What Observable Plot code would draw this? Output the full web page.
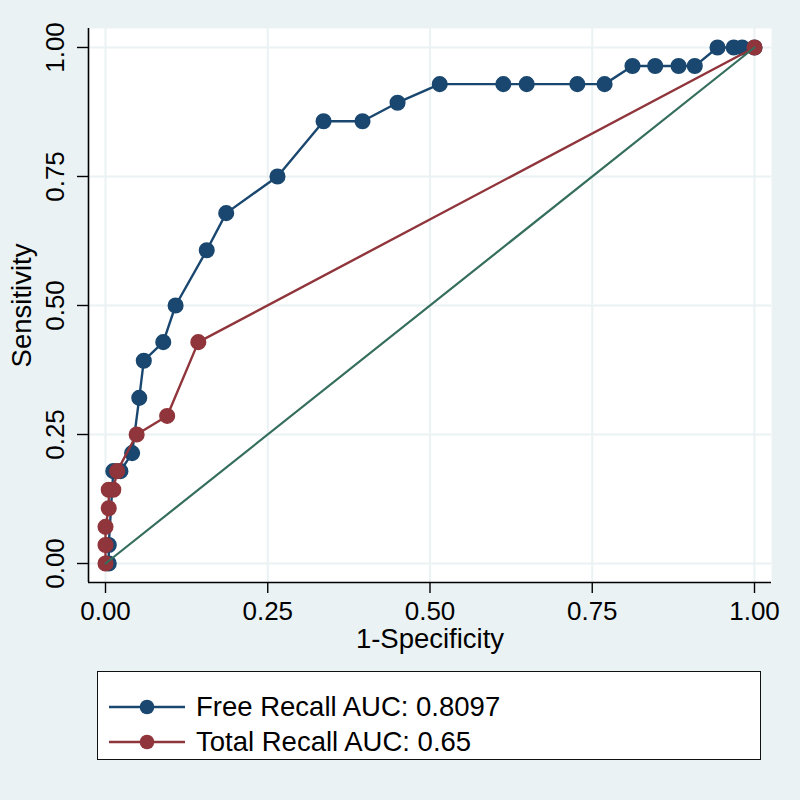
<!DOCTYPE html>
<html>
<head>
<meta charset="utf-8">
<script src="https://cdn.jsdelivr.net/npm/d3@7"></script>
<script src="https://cdn.jsdelivr.net/npm/@observablehq/plot@0.6"></script>
<style>
  html, body { margin: 0; padding: 0; background: #EAF2F3; }
  body { width: 800px; height: 800px; position: relative; overflow: hidden;
         font-family: "Liberation Sans", Arial, Helvetica, sans-serif; }
  #chart { position: absolute; left: 0; top: 0; }
  #legend { position: absolute; left: 97px; top: 671px; width: 662px; height: 87px;
            background: #fff; border: 1.5px solid #111; }
  .row { position: absolute; left: 0; height: 30px; display: flex; align-items: center; }
  .row svg { margin-left: 10px; }
  .row span { margin-left: 10px; font-size: 27.5px; color: #000; white-space: nowrap; }
</style>
</head>
<body>
<div id="chart"></div>
<div id="legend"></div>
<script>
// ---- data ----
const freeX = [0.005, 0.005, 0.012, 0.023, 0.041, 0.052, 0.059, 0.089, 0.108, 0.156, 0.186, 0.265, 0.336, 0.396, 0.450, 0.515, 0.613, 0.649, 0.727, 0.769, 0.812, 0.847, 0.883, 0.908, 0.943, 0.968, 0.981, 1.0];
const freeY = [0, 0.036, 0.179, 0.179, 0.214, 0.321, 0.393, 0.429, 0.500, 0.607, 0.679, 0.750, 0.857, 0.857, 0.893, 0.929, 0.929, 0.929, 0.929, 0.929, 0.964, 0.964, 0.964, 0.964, 1, 1, 1, 1];
const totalX = [0, 0, 0, 0.005, 0.005, 0.012, 0.018, 0.048, 0.095, 0.143, 1];
const totalY = [0, 0.036, 0.071, 0.107, 0.143, 0.143, 0.179, 0.250, 0.286, 0.429, 1];
const diagX = [0, 1];
const diagY = [0, 1];
const tickValues = [0, 0.25, 0.5, 0.75, 1];
const seriesNames = ["Free Recall AUC: 0.8097", "Total Recall AUC: 0.65"];
const seriesColors = ["#1a476f", "#90353b"];
const diagColor = "#356e5d";
const xTitle = "1-Specificity";
const yTitle = "Sensitivity";

const free = freeX.map((x, i) => ({x, y: freeY[i]}));
const total = totalX.map((x, i) => ({x, y: totalY[i]}));
const diag = diagX.map((x, i) => ({x, y: diagY[i]}));
const fmt = d3.format(".2f");
const xDom = [-0.0262, 1.0262];
const yDom = [-0.0368, 1.0368];

const plot = Plot.plot({
  width: 800,
  height: 660,
  marginLeft: 88,
  marginRight: 29,
  marginTop: 28,
  marginBottom: 78,
  x: {domain: xDom},
  y: {domain: yDom},
  style: {background: "transparent", fontSize: "26px", fontFamily: "'Liberation Sans', Arial, Helvetica, sans-serif", color: "#000"},
  marks: [
    Plot.frame({fill: "white", stroke: "none"}),
    Plot.gridX(tickValues, {stroke: "#EAF2F3", strokeOpacity: 1, strokeWidth: 2}),
    Plot.gridY(tickValues, {stroke: "#EAF2F3", strokeOpacity: 1, strokeWidth: 2}),
    Plot.ruleX([xDom[0]], {stroke: "#000", strokeWidth: 1.6}),
    Plot.ruleY([yDom[0]], {stroke: "#000", strokeWidth: 1.6}),
    Plot.axisX(tickValues, {tickSize: 11, tickPadding: 8, tickFormat: fmt, label: null, strokeWidth: 1.4}),
    Plot.axisY(tickValues, {tickSize: 11, tickFormat: null, text: null, label: null, strokeWidth: 1.4}),
    Plot.text(tickValues, {y: d => d, text: d => fmt(d), frameAnchor: "left", dx: -33, rotate: -90, textAnchor: "middle", lineAnchor: "middle", fill: "#000"}),
    Plot.text([xTitle], {frameAnchor: "bottom", dy: 57, textAnchor: "middle", lineAnchor: "middle", text: d => d, fill: "#000", fontSize: 27.5}),
    Plot.text([yTitle], {frameAnchor: "left", dx: -66, rotate: -90, textAnchor: "middle", lineAnchor: "middle", text: d => d, fill: "#000", fontSize: 27.5}),
    Plot.line(free, {x: "x", y: "y", stroke: seriesColors[0], strokeWidth: 2.4}),
    Plot.dot(free, {x: "x", y: "y", r: 7.3, fill: seriesColors[0], stroke: seriesColors[0]}),
    Plot.line(total, {x: "x", y: "y", stroke: seriesColors[1], strokeWidth: 2.4}),
    Plot.dot(total, {x: "x", y: "y", r: 7.3, fill: seriesColors[1], stroke: seriesColors[1]}),
    Plot.line(diag, {x: "x", y: "y", stroke: diagColor, strokeWidth: 2.2})
  ]
});
document.getElementById("chart").appendChild(plot);

// legend
const legend = document.getElementById("legend");
seriesNames.forEach((name, i) => {
  const row = document.createElement("div");
  row.className = "row";
  row.style.top = (i === 0 ? 20 : 55) + "px";
  row.innerHTML = `<svg width="78" height="20"><line x1="1" y1="10" x2="77" y2="10" stroke="${seriesColors[i]}" stroke-width="2.4"/><circle cx="39" cy="10" r="7.3" fill="${seriesColors[i]}"/></svg><span>${name}</span>`;
  legend.appendChild(row);
});
</script>
</body>
</html>
